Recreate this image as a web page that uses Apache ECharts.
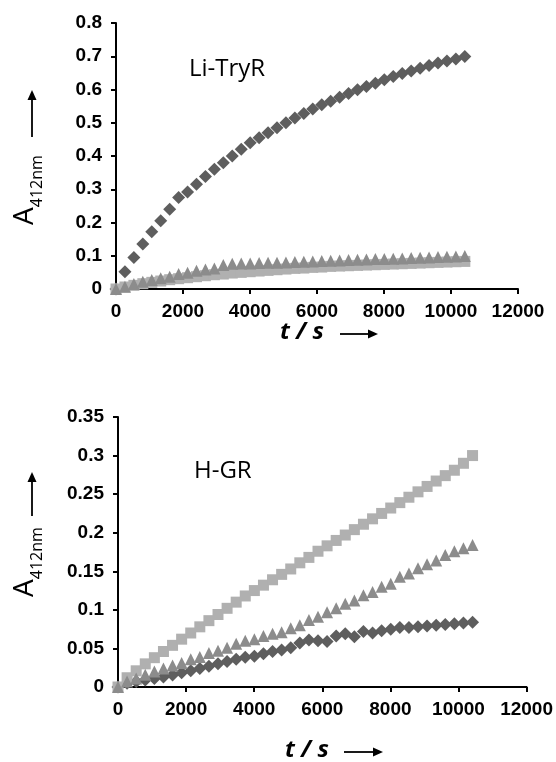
<!DOCTYPE html>
<html>
<head>
    <title>A412nm kinetics</title>
    <meta charset="utf-8">
    <script src="https://cdn.jsdelivr.net/npm/echarts@6/dist/echarts.min.js"></script>
    <style>
        body { margin: 0; background: #fff; }
        #chart { width: 556px; height: 762px; }
    </style>
</head>
<body>
    <div id="chart"></div>
<script>
    // sampling times (s), same for every trace
    var times = [0, 267, 534, 801, 1068, 1335, 1602, 1869, 2136, 2403,
        2670, 2937, 3204, 3471, 3738, 4005, 4272, 4539, 4806, 5073,
        5340, 5607, 5874, 6141, 6408, 6675, 6942, 7209, 7476, 7743,
        8010, 8277, 8544, 8811, 9078, 9345, 9612, 9879, 10146, 10413];

    // Li-TryR panel
    var tryrDiamond = [0, 0.052, 0.095, 0.135, 0.172, 0.205, 0.24, 0.275, 0.292, 0.315,
        0.338, 0.36, 0.38, 0.40, 0.42, 0.44, 0.455, 0.47, 0.485, 0.50,
        0.514, 0.528, 0.541, 0.554, 0.565, 0.577, 0.588, 0.599, 0.609, 0.619,
        0.629, 0.639, 0.648, 0.656, 0.664, 0.672, 0.68, 0.686, 0.692, 0.699];
    var tryrSquare = [0, 0.006, 0.011, 0.016, 0.02, 0.024, 0.028, 0.031, 0.034, 0.037,
        0.04, 0.043, 0.045, 0.048, 0.05, 0.052, 0.054, 0.056, 0.058, 0.06,
        0.062, 0.063, 0.065, 0.066, 0.068, 0.069, 0.07, 0.071, 0.072, 0.073,
        0.074, 0.075, 0.076, 0.077, 0.078, 0.079, 0.08, 0.081, 0.082, 0.083];
    var tryrTriangle = [0, 0.007, 0.015, 0.022, 0.027, 0.032, 0.037, 0.045, 0.049, 0.055,
        0.059, 0.062, 0.072, 0.076, 0.077, 0.077, 0.078, 0.079, 0.079, 0.08,
        0.081, 0.082, 0.083, 0.084, 0.085, 0.086, 0.087, 0.088, 0.089, 0.09,
        0.09, 0.091, 0.092, 0.093, 0.094, 0.095, 0.096, 0.097, 0.098, 0.099];

    // H-GR panel
    var grDiamond = [0, 0.005, 0.007, 0.009, 0.011, 0.013, 0.0155, 0.0185, 0.021, 0.024,
        0.027, 0.03, 0.033, 0.036, 0.0385, 0.04, 0.043, 0.046, 0.048, 0.051,
        0.057, 0.061, 0.06, 0.059, 0.066, 0.069, 0.065, 0.072, 0.07, 0.073,
        0.075, 0.077, 0.077, 0.078, 0.079, 0.08, 0.081, 0.082, 0.083, 0.084];
    var grSquare = [0, 0.012, 0.021, 0.03, 0.038, 0.046, 0.054, 0.062, 0.07, 0.078,
        0.086, 0.094, 0.102, 0.11, 0.118, 0.125, 0.132, 0.139, 0.146, 0.153,
        0.161, 0.168, 0.176, 0.183, 0.19, 0.197, 0.204, 0.211, 0.218, 0.225,
        0.232, 0.239, 0.246, 0.253, 0.26, 0.267, 0.274, 0.281, 0.29, 0.3];
    var grTriangle = [0, 0.007, 0.011, 0.016, 0.02, 0.024, 0.028, 0.031, 0.036, 0.039,
        0.044, 0.047, 0.051, 0.056, 0.06, 0.062, 0.066, 0.069, 0.071, 0.076,
        0.08, 0.087, 0.091, 0.097, 0.102, 0.108, 0.112, 0.119, 0.123, 0.13,
        0.134, 0.143, 0.147, 0.154, 0.159, 0.164, 0.171, 0.176, 0.18, 0.184];

    var xTicks = { min: 0, max: 12000, interval: 2000 };
    var yTicksTop = { min: 0, max: 0.8, interval: 0.1 };
    var yTicksBottom = { min: 0, max: 0.35, interval: 0.05 };

    var cDiamond = '#5e5e5e', cSquare = '#b0b0b0', cTriangle = '#8c8c8c';

    function pairs(ys) {
        var out = [];
        for (var i = 0; i < ys.length; i++) out.push([times[i], ys[i]]);
        return out;
    }

    var axisLine = { lineStyle: { color: '#000', width: 2 } };
    var axisTick = { show: true, inside: false, length: 5, lineStyle: { color: '#000', width: 2 } };
    var labelFont = { color: '#000', fontFamily: 'Liberation Sans', fontWeight: 'bold', fontSize: 19 };

    function xAx(grid) {
        return {
            type: 'value', gridIndex: grid, min: xTicks.min, max: xTicks.max, interval: xTicks.interval,
            axisLine: axisLine, axisTick: axisTick, splitLine: { show: false },
            axisLabel: Object.assign({ margin: 13, formatter: function (v) { return String(v); } }, labelFont)
        };
    }
    function yAx(grid, t) {
        return {
            type: 'value', gridIndex: grid, min: t.min, max: t.max, interval: t.interval,
            axisLine: axisLine, axisTick: axisTick, splitLine: { show: false },
            axisLabel: Object.assign({ margin: 14 }, labelFont)
        };
    }
    function sc(name, data, grid, symbol, size, color) {
        return {
            name: name, type: 'scatter', xAxisIndex: grid, yAxisIndex: grid,
            data: pairs(data), symbol: symbol, symbolSize: size,
            itemStyle: { color: color, opacity: 1 }, animation: false
        };
    }

    // arrows next to the axis titles
    function arrowUp(x, yTop, yBottom) {
        return [
            { type: 'line', shape: { x1: x, y1: yBottom, x2: x, y2: yTop + 7 }, style: { stroke: '#000', lineWidth: 1.8 } },
            { type: 'polygon', shape: { points: [[x, yTop], [x - 4.5, yTop + 10], [x + 4.5, yTop + 10]] }, style: { fill: '#000' } }
        ];
    }
    function arrowRight(xLeft, xRight, y) {
        return [
            { type: 'line', shape: { x1: xLeft, y1: y, x2: xRight - 7, y2: y }, style: { stroke: '#000', lineWidth: 1.8 } },
            { type: 'polygon', shape: { points: [[xRight, y], [xRight - 10, y - 4.5], [xRight - 10, y + 4.5]] }, style: { fill: '#000' } }
        ];
    }
    function yTitle(cx, cy) {
        return {
            type: 'text', x: cx, y: cy, rotation: Math.PI / 2,
            style: {
                text: '{a|A}{b|412nm}', align: 'center', verticalAlign: 'middle',
                rich: {
                    a: { fontFamily: 'Open Sans', fontSize: 28, fill: '#000', verticalAlign: 'bottom', lineHeight: 32 },
                    b: { fontFamily: 'Open Sans', fontSize: 16, fill: '#000', verticalAlign: 'bottom', lineHeight: 32, padding: [0, 0, -6, 0] }
                }
            }
        };
    }
    function xTitle(x, y) {
        return {
            type: 'text', x: x, y: y,
            style: { text: 't / s', fontFamily: 'Open Sans', fontStyle: 'italic', fontWeight: 'bold', fontSize: 24, fill: '#000', align: 'left', verticalAlign: 'middle' }
        };
    }
    function panelLabel(text, x, y) {
        return {
            type: 'text', x: x, y: y,
            style: { text: text, fontFamily: 'Open Sans', fontSize: 24, fill: '#000', align: 'left', verticalAlign: 'middle' }
        };
    }

    var graphics = [].concat(
        [panelLabel('Li-TryR', 189, 69), panelLabel('H-GR', 194, 471)],
        [yTitle(23, 190), yTitle(23, 562)],
        arrowUp(32, 90, 137), arrowUp(32, 472, 516),
        [xTitle(280, 332), xTitle(285, 750)],
        arrowRight(340, 378, 334), arrowRight(344, 383, 752)
    );

    var chart = echarts.init(document.getElementById('chart'));
    chart.setOption({
        backgroundColor: '#fff',
        animation: false,
        grid: [
            { left: 116, top: 23, width: 402, height: 266 },
            { left: 118, top: 417, width: 409, height: 270 }
        ],
        xAxis: [xAx(0), xAx(1)],
        yAxis: [yAx(0, yTicksTop), yAx(1, yTicksBottom)],
        series: [
            sc('Li-TryR diamond', tryrDiamond, 0, 'diamond', 13, cDiamond),
            sc('Li-TryR square', tryrSquare, 0, 'rect', 11, cSquare),
            sc('Li-TryR triangle', tryrTriangle, 0, 'triangle', 12, cTriangle),
            sc('H-GR diamond', grDiamond, 1, 'diamond', 13, cDiamond),
            sc('H-GR square', grSquare, 1, 'rect', 11, cSquare),
            sc('H-GR triangle', grTriangle, 1, 'triangle', 12, cTriangle)
        ],
        graphic: graphics
    });
</script>
</body>
</html>
